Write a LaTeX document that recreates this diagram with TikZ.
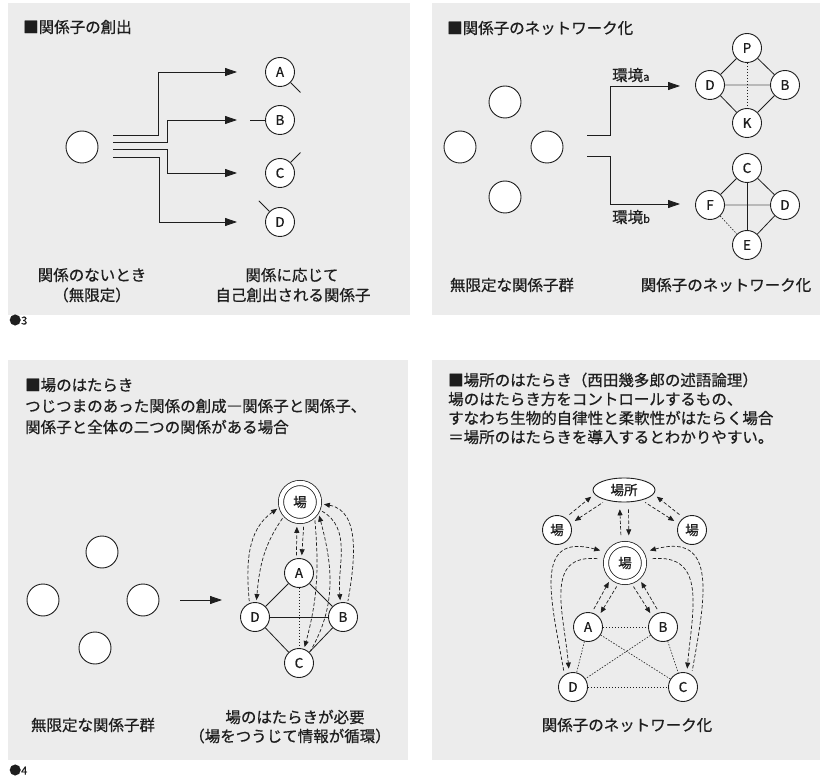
\documentclass[tikz,border=0pt]{standalone}
\usepackage{fontspec}
\setmainfont{Noto Sans CJK JP}[FakeBold=0.7]
\usetikzlibrary{arrows.meta,shapes.geometric}
\definecolor{panelgray}{RGB}{236,236,236}
\definecolor{ink}{RGB}{30,30,30}
\tikzset{
  panel/.style={fill=panelgray,draw=none},
  txt/.style={inner sep=0pt,text=ink,font=\fontsize{15.5}{16}\selectfont},
  ttl/.style={txt,anchor=west},
  nd/.style={circle,draw=ink,line width=0.9pt,fill=white,minimum size=29pt,inner sep=0pt,text=ink,font=\fontsize{13.5}{13.5}\selectfont},
  emp/.style={nd,minimum size=32pt},
  ba/.style={nd,double=white,double distance=4.4pt,line width=0.8pt,minimum size=38pt,outer sep=3pt},
  hell/.style={ellipse,draw=ink,line width=0.9pt,fill=white,minimum width=62pt,minimum height=24pt,inner sep=0pt,text=ink,font=\fontsize{13.5}{13.5}\selectfont},
  ln/.style={draw=ink,line width=0.8pt},
  big/.style={ln,-{Triangle[length=12pt,width=8pt]}},
  dotl/.style={draw=ink,line width=0.6pt,dash pattern=on 1.5pt off 1.5pt},
  dsh/.style={draw=ink,line width=0.7pt,dash pattern=on 3.5pt off 2pt},
  tipend/.style={-{Triangle[length=6pt,width=5pt]}},
  tipstart/.style={{Triangle[length=6pt,width=5pt]}-},
  gl/.style={draw=ink,line width=0.6pt,double=gray!55,double distance=1.6pt},
}
\begin{document}
\begin{tikzpicture}[x=1pt,y=1pt]
\path[use as bounding box] (0,0) rectangle (820,-778);
\fill[panel] (8,-3) rectangle (410,-315);
\fill[panel] (432,-3) rectangle (820,-315);
\fill[panel] (8,-360) rectangle (408,-760);
\fill[panel] (432,-360) rectangle (820,-760);

% ---------- panel 1
\node[ttl] (t1) at (23,-27) {■関係子の創出};
\node[emp] (o1) at (82,-147) {};
\coordinate (s1) at (113,-135);
\coordinate (s2) at (113,-142);
\coordinate (s3) at (113,-149);
\coordinate (s4) at (113,-157);
\coordinate (e1) at (237,-72);
\coordinate (e2) at (237,-120);
\coordinate (e3) at (237,-173);
\coordinate (e4) at (237,-222);
\draw[big] (s1) -- ++(45,0) |- (e1);
\draw[big] (s2) -- ++(54,0) |- (e2);
\draw[big] (s3) -- ++(54,0) |- (e3);
\draw[big] (s4) -- ++(46,0) |- (e4);
\node[nd] (a1) at (280,-72) {A};
\node[nd] (b1) at (280,-120) {B};
\node[nd] (c1) at (280,-173) {C};
\node[nd] (d1) at (280,-222) {D};
\draw[ln] (a1.-45) -- ++(-45:14);
\draw[ln] (b1.180) -- ++(-15,0);
\draw[ln] (c1.45) -- ++(45:14);
\draw[ln] (d1.135) -- ++(135:15);
\node[txt] (l1) at (92,-275) {関係のないとき};
\node[txt] (l2) at (92,-295) {（無限定）};
\node[txt] (l3) at (292,-275) {関係に応じて};
\node[txt] (l4) at (293,-295) {自己創出される関係子};
\node[txt,anchor=west] (n3) at (9,-320) {{\fontsize{12}{12}\selectfont ●}{\fontsize{11}{11}\selectfont 3}};

% ---------- panel 2
\node[ttl] (t2) at (447,-28) {■関係子のネットワーク化};
\node[emp] (q1) at (505,-102) {};
\node[emp] (q2) at (460,-147) {};
\node[emp] (q3) at (547,-147) {};
\node[emp] (q4) at (505,-197) {};
\coordinate (u1) at (587,-135);
\coordinate (u2) at (587,-156);
\coordinate (ea) at (680,-86);
\coordinate (eb) at (680,-204);
\draw[big] (u1) -- ++(23,0) |- (ea);
\draw[big] (u2) -- ++(23,0) |- (eb);
\node[txt,anchor=west] (ka) at (612,-75) {環境{\fontsize{11}{11}\selectfont a}};
\node[txt,anchor=west] (kb) at (612,-217) {環境{\fontsize{11}{11}\selectfont b}};
\node[nd] (p2) at (747,-48) {P};
\node[nd] (d2) at (710,-85) {D};
\node[nd] (b2) at (785,-85) {B};
\node[nd] (k2) at (747,-123) {K};
\draw[ln] (p2) -- (d2);
\draw[ln] (p2) -- (b2);
\draw[ln] (d2) -- (k2);
\draw[ln] (b2) -- (k2);
\draw[gl] (d2) -- (b2);
\draw[dotl] (p2) -- (k2);
\node[nd] (c2) at (747,-168) {C};
\node[nd] (f2) at (710,-205) {F};
\node[nd] (g2) at (785,-205) {D};
\node[nd] (h2) at (747,-245) {E};
\draw[ln] (c2) -- (f2);
\draw[ln] (c2) -- (g2);
\draw[ln] (g2) -- (h2);
\draw[gl] (f2) -- (g2);
\draw[ln] (c2) -- (h2);
\draw[dotl] (f2) -- (h2);
\node[txt] (l5) at (512,-285) {無限定な関係子群};
\node[txt] (l6) at (726,-285) {関係子のネットワーク化};

% ---------- panel 3
\node[ttl] (t3a) at (25,-385) {■場のはたらき};
\node[ttl] (t3b) at (25,-406) {つじつまのあった関係の創成―関係子と関係子、};
\node[ttl] (t3c) at (25,-427) {関係子と全体の二つの関係がある場合};
\node[emp] (r1) at (102,-552) {};
\node[emp] (r2) at (43,-600) {};
\node[emp] (r3) at (143,-600) {};
\node[emp] (r4) at (95,-648) {};
\coordinate (m1) at (180,-600);
\coordinate (m2) at (222,-600);
\draw[big] (m1) -- (m2);
\node[ba] (f3) at (300,-502) {場};
\node[nd] (a3) at (299,-573) {A};
\node[nd] (d3) at (255,-617) {D};
\node[nd] (b3) at (343,-617) {B};
\node[nd] (c3) at (299,-663) {C};
\draw[ln] (a3) -- (d3);
\draw[ln] (a3) -- (b3);
\draw[ln] (d3) -- (c3);
\draw[ln] (b3) -- (c3);
\draw[ln] (d3) -- (b3);
\draw[dotl] (a3) -- (c3);
% pairs
\draw[dsh,tipend,shorten <=3pt,shorten >=3pt] (a3.100) -- (f3.262);
\draw[dsh,tipend,shorten <=3pt,shorten >=3pt] (f3.280) -- (a3.80);
\draw[dsh,tipstart,shorten <=2pt,shorten >=2pt] (f3.195) to[out=215,in=95] (d3.112);
\draw[dsh,tipend,shorten <=2pt,shorten >=2pt] (f3.222) to[out=235,in=85] (d3.85);
\draw[dsh,tipstart,shorten <=2pt,shorten >=2pt] (f3.-5) to[out=-10,in=80] (b3.72);
\draw[dsh,tipend,shorten <=2pt,shorten >=2pt] (f3.-22) to[out=-30,in=95] (b3.100);
\draw[dsh,tipstart,shorten <=2pt,shorten >=2pt] (f3.-32) to[out=-75,in=60] (c3.45);
\draw[dsh,tipend,shorten <=2pt,shorten >=2pt] (f3.-48) to[out=-85,in=75] (c3.70);
\node[txt] (l7) at (93,-725) {無限定な関係子群};
\node[txt] (l8) at (295,-717) {場のはたらきが必要};
\node[txt] (l9) at (290,-736) {（場をつうじて情報が循環）};
\node[txt,anchor=west] (n4) at (9,-770) {{\fontsize{12}{12}\selectfont ●}{\fontsize{11}{11}\selectfont 4}};

% ---------- panel 4
\node[ttl] (t4a) at (448,-380) {■場所のはたらき（西田幾多郎の述語論理）};
\node[ttl] (t4b) at (448,-399) {場のはたらき方をコントロールするもの、};
\node[ttl] (t4c) at (448,-418) {すなわち生物的自律性と柔軟性がはたらく場合};
\node[ttl] (t4d) at (448,-437) {＝場所のはたらきを導入するとわかりやすい。};
\node[hell] (e4n) at (624,-490) {場所};
\node[nd] (l4n) at (557,-530) {場};
\node[nd] (r4n) at (692,-530) {場};
\node[ba] (f4) at (625,-563) {場};
\node[nd] (a4) at (588,-627) {A};
\node[nd] (b4) at (663,-627) {B};
\node[nd] (d4) at (573,-687) {D};
\node[nd] (c4) at (683,-687) {C};
\draw[dotl] (a4) -- (b4);
\draw[dotl] (a4) -- (d4);
\draw[dotl] (a4) -- (c4);
\draw[dotl] (b4) -- (d4);
\draw[dotl] (b4) -- (c4);
\draw[dotl] (d4) -- (c4);
% pairs
\draw[dsh,tipend,shorten <=5pt,shorten >=4pt] (l4n.55) -- (e4n.188);
\draw[dsh,tipstart,shorten <=5pt,shorten >=4pt] (l4n.25) -- (e4n.210);
\draw[dsh,tipend,shorten <=5pt,shorten >=4pt] (r4n.125) -- (e4n.352);
\draw[dsh,tipstart,shorten <=5pt,shorten >=4pt] (r4n.155) -- (e4n.330);
\draw[dsh,tipstart,shorten <=7pt,shorten >=6pt] (e4n.250) -- (f4.100);
\draw[dsh,tipend,shorten <=7pt,shorten >=6pt] (e4n.290) -- (f4.80);
\draw[dsh,tipend,shorten <=4pt,shorten >=3pt] (a4.75) -- (f4.228);
\draw[dsh,tipstart,shorten <=4pt,shorten >=3pt] (a4.45) -- (f4.252);
\draw[dsh,tipend,shorten <=4pt,shorten >=3pt] (b4.105) -- (f4.312);
\draw[dsh,tipstart,shorten <=4pt,shorten >=3pt] (b4.135) -- (f4.288);
\draw[dsh,tipstart,shorten <=6pt,shorten >=4pt] (f4.150) to[out=165,in=100,looseness=1.5] (d4.125);
\draw[dsh,tipend,shorten <=6pt,shorten >=4pt] (f4.170) to[out=175,in=95,looseness=1.3] (d4.105);
\draw[dsh,tipstart,shorten <=6pt,shorten >=4pt] (f4.30) to[out=15,in=80,looseness=1.5] (c4.55);
\draw[dsh,tipend,shorten <=6pt,shorten >=4pt] (f4.10) to[out=5,in=85,looseness=1.3] (c4.75);
\node[txt] (l10) at (627,-725) {関係子のネットワーク化};
\end{tikzpicture}
\end{document}
